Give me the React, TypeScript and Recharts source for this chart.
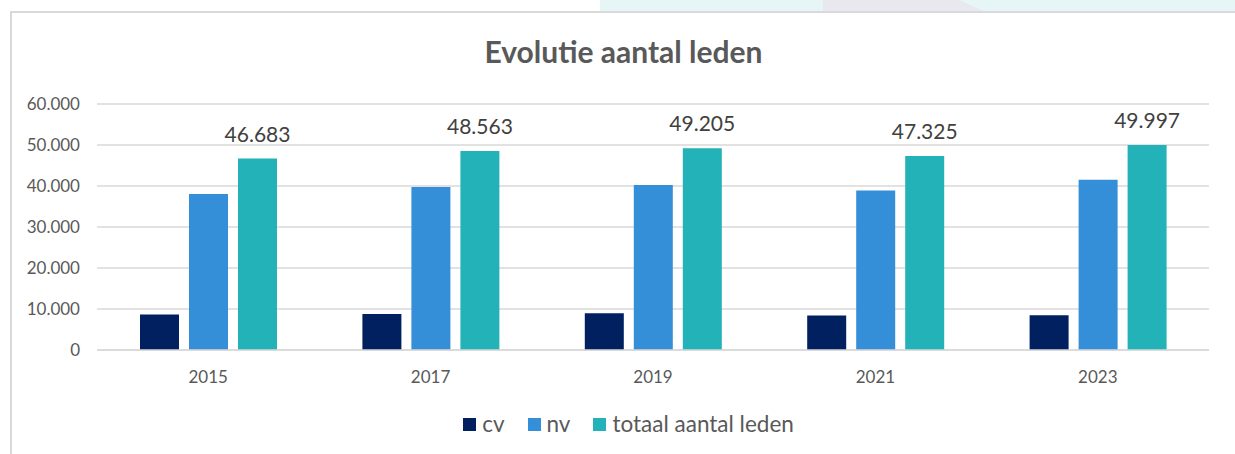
import { BarChart, Bar, XAxis, YAxis, CartesianGrid, Legend, LabelList } from 'recharts';

const years = ['2015', '2017', '2019', '2021', '2023'];
const cv = [8633, 8803, 8965, 8395, 8457];
const nv = [38050, 39760, 40240, 38930, 41540];
const totaal = [46683, 48563, 49205, 47325, 49997];
const yTicks = [0, 10000, 20000, 30000, 40000, 50000, 60000];

const data = years.map((year, i) => ({
  year,
  cv: cv[i],
  nv: nv[i],
  totaal: totaal[i],
}));

const FONT = 'Lato, "Open Sans", sans-serif';

// dutch thousands separator: 46683 -> 46.683
const fmt = (v: number) => String(v).replace(/\B(?=(\d{3})+(?!\d))/g, '.');

function LegendContent(props: any) {
  const items = props.payload || [];
  return (
    <div style={{ display: 'flex', justifyContent: 'center', alignItems: 'center', fontFamily: FONT }}>
      {items.map((it: any, i: number) => (
        <div key={i} style={{ display: 'flex', alignItems: 'center', marginLeft: i === 0 ? 0 : 23 }}>
          <span style={{ width: 13, height: 13, background: it.color, display: 'inline-block', marginRight: 6 }} />
          <span style={{ fontSize: 22.5, color: '#595959', lineHeight: '26px' }}>{it.value}</span>
        </div>
      ))}
    </div>
  );
}

export default function App() {
  return (
    <div
      style={{
        position: 'fixed',
        left: 0,
        top: 0,
        width: 1235,
        height: 454,
        overflow: 'hidden',
        background: '#fff',
      }}
    >
      {/* decorative band above the chart box */}
      <div style={{ position: 'absolute', left: 600, top: 0, width: 635, height: 11, background: '#e6f6f6' }} />
      <div
        style={{
          position: 'absolute',
          left: 823,
          top: 0,
          width: 160,
          height: 11,
          background: '#e8e8ee',
          clipPath: 'polygon(0 0, 85% 0, 100% 100%, 0 100%)',
        }}
      />
      <div
        style={{
          position: 'absolute',
          left: 10,
          top: 11,
          width: 1300,
          height: 500,
          borderTop: '2px solid #d9d9d9',
          borderLeft: '2px solid #d9d9d9',
          background: '#fff',
          boxSizing: 'border-box',
        }}
      />
      <div
        style={{
          position: 'absolute',
          left: 10,
          width: 1227,
          top: 36,
          textAlign: 'center',
          fontFamily: FONT,
          fontWeight: 700,
          fontSize: 30,
          lineHeight: 1,
          color: '#595959',
        }}
      >
        Evolutie aantal leden
      </div>
      <div style={{ position: 'absolute', left: 0, top: 0 }}>
        <BarChart
          width={1235}
          height={454}
          data={data}
          margin={{ top: 104, right: 26, bottom: 74, left: 0 }}
          barSize={39}
          barGap={10}
        >
          <CartesianGrid vertical={false} stroke="#d9d9d9" strokeWidth={1.5} />
          <XAxis
            dataKey="year"
            height={30}
            tickLine={false}
            tickSize={0}
            tickMargin={21}
            axisLine={{ stroke: '#d9d9d9', strokeWidth: 1.5 }}
            tick={{ fill: '#595959', fontSize: 17, fontFamily: FONT }}
          />
          <YAxis
            width={97}
            domain={[0, 60000]}
            ticks={yTicks}
            tickFormatter={fmt}
            tickLine={false}
            axisLine={false}
            tickSize={0}
            tickMargin={17}
            tick={{ fill: '#595959', fontSize: 17, fontFamily: FONT }}
          />
          <Legend
            layout="horizontal"
            verticalAlign="middle"
            content={<LegendContent />}
            wrapperStyle={{ position: 'absolute', left: 10, width: 1237, top: 411 }}
          />
          <Bar dataKey="cv" name="cv" fill="#002060" isAnimationActive={false} />
          <Bar dataKey="nv" name="nv" fill="#358ed8" isAnimationActive={false} />
          <Bar dataKey="totaal" name="totaal aantal leden" fill="#23b2b8" isAnimationActive={false}>
            <LabelList
              dataKey="totaal"
              position="top"
              offset={17}
              formatter={(v: any) => fmt(Number(v))}
              style={{ fill: '#404040', fontSize: 21, fontFamily: FONT }}
            />
          </Bar>
        </BarChart>
      </div>
    </div>
  );
}
